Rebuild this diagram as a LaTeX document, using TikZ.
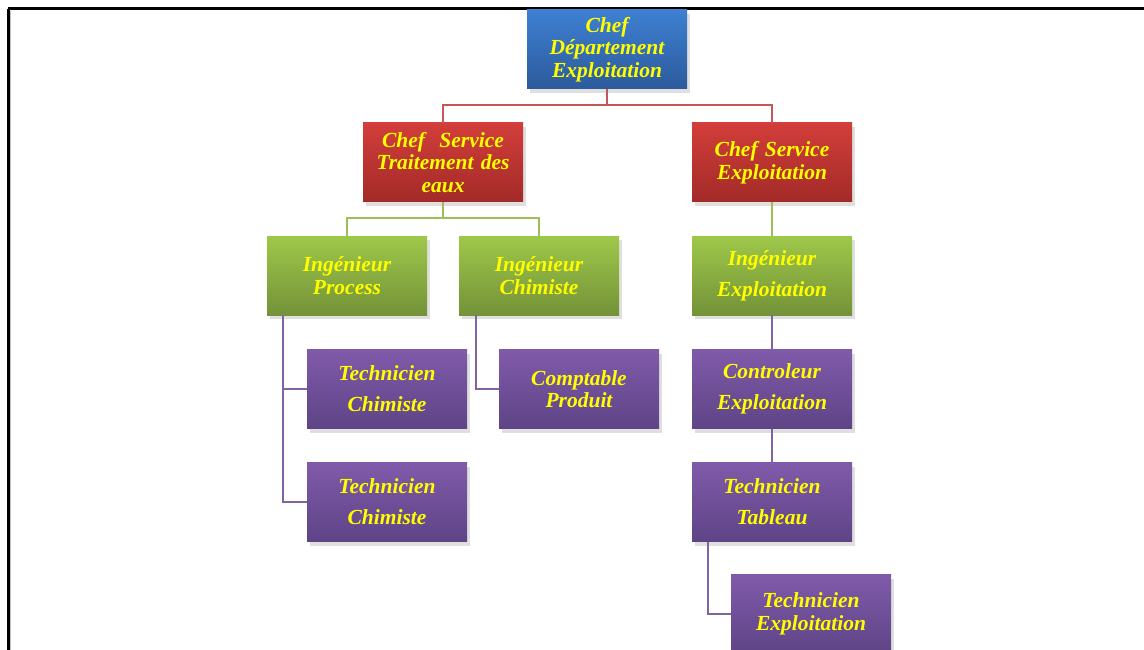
\documentclass[tikz,border=0pt]{standalone}
\usepackage{fontspec}
\setmainfont{Liberation Serif}
\usetikzlibrary{shadows,calc}
\definecolor{bluetop}{RGB}{62,128,210}
\definecolor{bluebot}{RGB}{44,90,156}
\definecolor{redtop}{RGB}{210,62,58}
\definecolor{redbot}{RGB}{162,42,40}
\definecolor{greentop}{RGB}{158,200,74}
\definecolor{greenbot}{RGB}{116,146,56}
\definecolor{purtop}{RGB}{128,90,170}
\definecolor{purbot}{RGB}{94,68,134}
\definecolor{txtyel}{RGB}{255,255,0}
\definecolor{redln}{RGB}{196,88,86}
\definecolor{greenln}{RGB}{155,190,90}
\definecolor{purln}{RGB}{128,100,162}
\tikzset{
  box/.style={minimum width=160pt, minimum height=79pt, inner sep=0pt, align=center,
    text=txtyel, text width=158pt,
    drop shadow={shadow xshift=3pt, shadow yshift=-4pt, opacity=0.25}},
  tight/.style={font=\fontsize{21.5}{22.5}\selectfont\bfseries\itshape},
  loose/.style={font=\fontsize{21.5}{31}\selectfont\bfseries\itshape},
  bluebox/.style={box, top color=bluetop, bottom color=bluebot},
  redbox/.style={box, top color=redtop, bottom color=redbot},
  greenbox/.style={box, top color=greentop, bottom color=greenbot},
  purbox/.style={box, top color=purtop, bottom color=purbot},
  redline/.style={draw=redln, line width=2.2pt},
  greenline/.style={draw=greenln, line width=2.2pt},
  purline/.style={draw=purln, line width=2.2pt},
}
\begin{document}
\begin{tikzpicture}[x=1pt,y=1pt]
\useasboundingbox (0,0) rectangle (1144,-650);
\fill[white] (0,0) rectangle (1144,-650);
% frame
\draw[black, line width=3pt] (8,-9) -- (1144,-9);
\draw[black, line width=3pt] (8,-9) -- (8,-650);
\draw[gray!50, line width=1pt] (10.5,-11) -- (10.5,-650);
% nodes
\node[bluebox, tight] (cd) at (607,-49.5) {Chef\\Département\\Exploitation};
\node[redbox, tight] (cst) at (443,-162.5) {Chef\ \ Service\\Traitement des\\eaux};
\node[redbox, tight] (cse) at (772,-162.5) {Chef Service\\Exploitation};
\node[greenbox, tight] (ip) at (347,-275.5) {Ingénieur\\Process};
\node[greenbox, tight] (ic) at (539,-275.5) {Ingénieur\\Chimiste};
\node[greenbox, loose] (ie) at (772,-275.5) {Ingénieur\\Exploitation};
\node[purbox, loose] (tc1) at (387,-389) {Technicien\\Chimiste};
\node[purbox, loose] (tc2) at (387,-502) {Technicien\\Chimiste};
\node[purbox, tight] (cp) at (579,-389) {Comptable\\Produit};
\node[purbox, loose] (ce) at (772,-389) {Controleur\\Exploitation};
\node[purbox, loose] (tt) at (772,-502) {Technicien\\Tableau};
\node[purbox, tight] (te) at (811,-614) {Technicien\\Exploitation};
% connectors
\draw[redline] (cd.south) -- ++(0,-16) -| (cst.north);
\draw[redline] (cd.south) ++(0,-16) -| (cse.north);
\draw[greenline] (cst.south) -- ++(0,-16) -| (ip.north);
\draw[greenline] (cst.south) ++(0,-16) -| (ic.north);
\draw[greenline] (cse.south) -- (ie.north);
\draw[purline] ($(ip.south west)+(16,0)$) |- (tc1.west);
\draw[purline] ($(ip.south west)+(16,0)$) |- (tc2.west);
\draw[purline] ($(ic.south west)+(17,0)$) |- (cp.west);
\draw[purline] (ie.south) -- (ce.north);
\draw[purline] (ce.south) -- (tt.north);
\draw[purline] ($(tt.south west)+(16,0)$) |- (te.west);
\end{tikzpicture}
\end{document}
